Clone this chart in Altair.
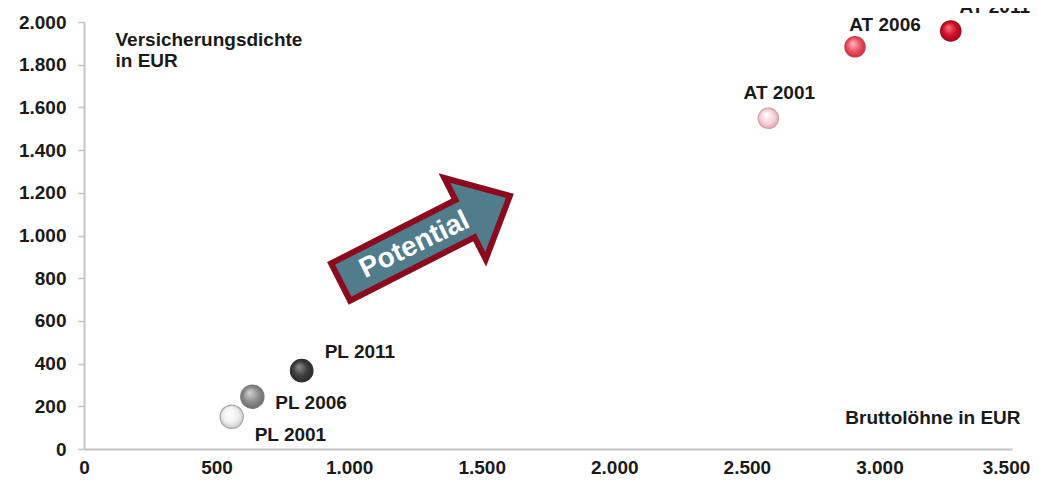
import altair as alt
import pandas as pd

# ---- data ----
labels = ["PL 2001", "PL 2006", "PL 2011", "AT 2001", "AT 2006", "AT 2011"]
wages = [557, 635, 821, 2581, 2908, 3269]          # Bruttolöhne in EUR
density = [151, 245, 367, 1549, 1884, 1958]        # Versicherungsdichte in EUR

x_ticks = [0, 500, 1000, 1500, 2000, 2500, 3000, 3500]
y_ticks = [0, 200, 400, 600, 800, 1000, 1200, 1400, 1600, 1800, 2000]

arrow_label = ["Potential"]
arrow_wage = [1287]
arrow_density = [984]
text_wage = [1247]
text_density = [955]

df = pd.DataFrame({"label": labels, "wage": wages, "density": density})
arrow_df = pd.DataFrame({"label": arrow_label, "wage": arrow_wage, "density": arrow_density})
text_df = pd.DataFrame({"label": arrow_label, "wage": text_wage, "density": text_density})

FONT = "Liberation Sans"
INK = "#1a1a1a"
AXIS_GREY = "#c4c4c4"
GER = "replace(format(datum.value, ',d'), ',', '.')"

x_enc = alt.X(
    "wage:Q",
    scale=alt.Scale(domain=[0, 3500], nice=False, zero=True),
    axis=alt.Axis(
        values=x_ticks, labelExpr=GER, grid=False, ticks=False, tickSize=0,
        domainColor=AXIS_GREY, domainWidth=2, labelFont=FONT, labelFontSize=19,
        labelFontWeight="bold", labelColor=INK, labelPadding=9, labelFlush=False,
        labelOverlap=False,
        labelOffset=alt.condition("datum.value == 3500", alt.value(-6), alt.value(0)),
        title="Bruttolöhne in EUR", titleX=936, titleY=-26, titleAlign="right",
        titleBaseline="alphabetic", titleFont=FONT, titleFontSize=19,
        titleFontWeight="bold", titleColor=INK,
    ),
)
y_enc = alt.Y(
    "density:Q",
    scale=alt.Scale(domain=[0, 2000], nice=False, zero=True),
    axis=alt.Axis(
        values=y_ticks, labelExpr=GER, grid=False, ticks=True, tickSize=6,
        tickColor=AXIS_GREY, tickWidth=1.5, domainColor=AXIS_GREY, domainWidth=2,
        labelFont=FONT, labelFontSize=19, labelFontWeight="bold", labelColor=INK,
        labelPadding=12, labelOverlap=False,
        title=["Versicherungsdichte", "in EUR"], titleAngle=0, titleX=31, titleY=23,
        titleAlign="left", titleBaseline="alphabetic", titleLineHeight=21,
        titleFont=FONT, titleFontSize=19, titleFontWeight="bold", titleColor=INK,
    ),
)

ARROW_PATH = ("M -1 -0.22 L 0.47 -0.22 L 0.47 -0.48 L 1 0 "
              "L 0.47 0.48 L 0.47 0.22 L -1 0.22 Z")

arrow = alt.Chart(arrow_df).mark_point(
    shape=ARROW_PATH, filled=True, fill="#517C8C", stroke="#8B0A1E",
    strokeWidth=6, strokeJoin="miter", size=36100, angle=333, opacity=1,
).encode(x=x_enc, y=y_enc)

arrow_text = alt.Chart(text_df).mark_text(
    font=FONT, fontSize=28, fontWeight="bold", color="white", angle=334,
    align="center", baseline="middle",
).encode(x=x_enc, y=y_enc, text="label:N")

# per-point styling (sphere-like radial gradient)
styles = {
    "PL 2001": (["#ffffff", "#f2f2f2", "#c4c4c4"], "#a8a8a8", 540),
    "PL 2006": (["#d2d2d2", "#8e8e8e", "#666666"], "#7a7a7a", 540),
    "PL 2011": (["#8a8a8a", "#3e3e3e", "#262626"], "#333333", 510),
    "AT 2001": (["#ffffff", "#f8d5da", "#dca3ab"], "#d7a0a8", 415),
    "AT 2006": (["#ffb4bc", "#ea5462", "#c42c3c"], "#c84050", 415),
    "AT 2011": (["#ff6a78", "#d0102a", "#9a0616"], "#a00818", 415),
}
label_pos = {
    "PL 2001": ("left", 23, 18),
    "PL 2006": ("left", 23, 6),
    "PL 2011": ("left", 23, -19),
    "AT 2001": ("center", 11, -25),
    "AT 2006": ("center", 30, -22),
    "AT 2011": ("center", 44, -24),
}

layers = [arrow, arrow_text]
for lab in labels:
    stops, stroke, size = styles[lab]
    grad = {
        "gradient": "radial", "x1": 0.38, "y1": 0.32, "r1": 0.02,
        "x2": 0.5, "y2": 0.5, "r2": 0.56,
        "stops": [
            {"offset": 0, "color": stops[0]},
            {"offset": 0.55, "color": stops[1]},
            {"offset": 1, "color": stops[2]},
        ],
    }
    pt = alt.Chart(df).transform_filter(alt.datum.label == lab).mark_point(
        shape="circle", filled=True, fill=grad, stroke=stroke, strokeWidth=1.2,
        size=size, opacity=1,
    ).encode(x=x_enc, y=y_enc)
    align, dx, dy = label_pos[lab]
    tx = alt.Chart(df).transform_filter(alt.datum.label == lab).mark_text(
        font=FONT, fontSize=19, fontWeight="bold", color=INK, align=align,
        baseline="middle", dx=dx, dy=dy,
    ).encode(x=x_enc, y=y_enc, text="label:N")
    layers += [pt, tx]

chart = alt.layer(*layers).properties(
    width=928, height=427,
    autosize=alt.AutoSizeParams(type="none"),
    padding={"left": 76, "top": 14, "right": 19, "bottom": 27},
    background="white",
).configure_view(stroke=None)

chart.save("out.html", embed_options={"renderer": "svg", "actions": False})
